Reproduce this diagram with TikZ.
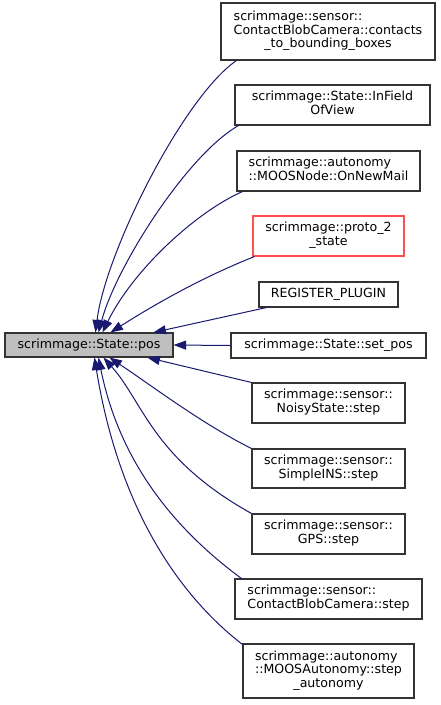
\documentclass[tikz,border=0pt]{standalone}
\usepackage{fontspec}
\setmainfont{DejaVu Sans}
\usetikzlibrary{arrows.meta}
\definecolor{edgeblue}{HTML}{191970}
\definecolor{boxgray}{HTML}{BFBFBF}
\definecolor{boxline}{HTML}{333333}
\definecolor{boxred}{HTML}{FF5050}
\newcommand{\dlab}[2]{\begin{tabular}{@{}l@{}}#1\\\multicolumn{1}{@{}c@{}}{#2}\end{tabular}}
\newcommand{\dlabiii}[3]{\begin{tabular}{@{}l@{}}#1\\#2\\\multicolumn{1}{@{}c@{}}{#3}\end{tabular}}
\begin{document}
\begin{tikzpicture}[x=1pt,y=-1pt,
  fnode/.style={draw=boxline, fill=white, line width=1.1pt, inner sep=0pt, anchor=center,
    font=\fontsize{12.6}{13.7}\selectfont},
  edge/.style={draw=edgeblue, line width=1pt, -{Triangle[length=12.5pt,width=9pt]}}]
\useasboundingbox (0,0) rectangle (441,705);
\fill[white] (0,0) rectangle (441,705);
% nodes
\node[fnode, fill=boxgray, minimum width=168pt, minimum height=24pt] (main) at (89,345) {scrimmage::State::pos};
\node[fnode, minimum width=214pt, minimum height=57pt] (b1) at (328,31.5) {\dlabiii{scrimmage::sensor::}{ContactBlobCamera::contacts}{\_to\_bounding\_boxes}};
\node[fnode, minimum width=195pt, minimum height=40pt] (b2) at (332.5,105) {\dlab{scrimmage::State::InField}{OfView}};
\node[fnode, minimum width=183pt, minimum height=40pt] (b3) at (328.5,171) {\dlab{scrimmage::autonomy}{::MOOSNode::OnNewMail}};
\node[fnode, draw=boxred, minimum width=151pt, minimum height=40pt] (b4) at (328.5,236) {\dlab{scrimmage::proto\_2}{\_state}};
\node[fnode, minimum width=139pt, minimum height=25pt] (b5) at (328.5,294.5) {REGISTER\_PLUGIN};
\node[fnode, minimum width=195pt, minimum height=25pt] (b6) at (328.5,345.5) {scrimmage::State::set\_pos};
\node[fnode, minimum width=153pt, minimum height=40pt] (b7) at (328.5,403) {\dlab{scrimmage::sensor::}{NoisyState::step}};
\node[fnode, minimum width=153pt, minimum height=39pt] (b8) at (328.5,468.5) {\dlab{scrimmage::sensor::}{SimpleINS::step}};
\node[fnode, minimum width=153pt, minimum height=40pt] (b9) at (328.5,534) {\dlab{scrimmage::sensor::}{GPS::step}};
\node[fnode, minimum width=187pt, minimum height=40pt] (b10) at (328.5,599) {\dlab{scrimmage::sensor::}{ContactBlobCamera::step}};
\node[fnode, minimum width=171pt, minimum height=54pt] (b11) at (328.5,671) {\dlabiii{scrimmage::autonomy}{::MOOSAutonomy::step}{\_autonomy}};
% edges
\draw[edge] ([xshift=16pt]b1.south west) .. controls (183,97.5) and (105.6,252) .. ([xshift=91pt]main.north west);
\draw[edge] ([xshift=4pt]b2.south west) .. controls (187,155) and (116.5,266) .. ([xshift=94pt]main.north west);
\draw[edge] ([xshift=6pt]b3.south west) .. controls (196,212) and (133,270) .. ([xshift=98pt]main.north west);
\draw[edge] ([xshift=2pt]b4.south west) .. controls (203,277) and (157,303) .. ([xshift=106pt]main.north west);
\draw[edge] ([xshift=8pt]b5.south west) -- ([xshift=149pt]main.north west);
\draw[edge] (b6.west) -- (main.east);
\draw[edge] (b7.north west) -- ([xshift=143pt]main.south west);
\draw[edge] (b8.north west) .. controls (202,424) and (148,383) .. ([xshift=105pt]main.south west);
\draw[edge] (b9.north west) .. controls (152,458) and (143.4,402) .. ([xshift=99pt]main.south west);
\draw[edge] ([xshift=7pt]b10.north west) .. controls (182,534.6) and (121,469) .. ([xshift=94pt]main.south west);
\draw[edge] ([yshift=-1pt]b11.north west) .. controls (172,589.7) and (117.4,499) .. ([xshift=90pt]main.south west);
\end{tikzpicture}
\end{document}
